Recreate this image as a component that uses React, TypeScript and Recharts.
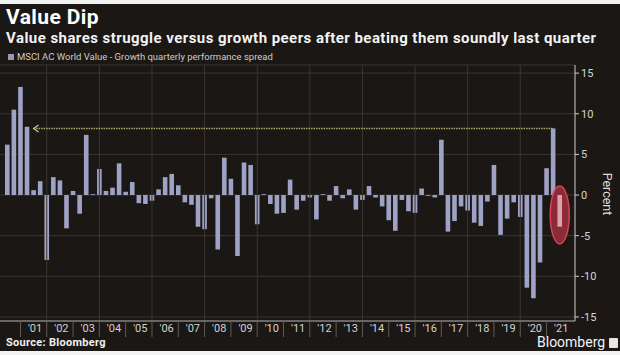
import React from 'react';
import { BarChart, Bar, XAxis, YAxis, CartesianGrid, ReferenceLine, ReferenceDot } from 'recharts';

const quarters = [
  '2000Q2', '2000Q3', '2000Q4',
  '2001Q1', '2001Q2', '2001Q3', '2001Q4',
  '2002Q1', '2002Q2', '2002Q3', '2002Q4',
  '2003Q1', '2003Q2', '2003Q3', '2003Q4',
  '2004Q1', '2004Q2', '2004Q3', '2004Q4',
  '2005Q1', '2005Q2', '2005Q3', '2005Q4',
  '2006Q1', '2006Q2', '2006Q3', '2006Q4',
  '2007Q1', '2007Q2', '2007Q3', '2007Q4',
  '2008Q1', '2008Q2', '2008Q3', '2008Q4',
  '2009Q1', '2009Q2', '2009Q3', '2009Q4',
  '2010Q1', '2010Q2', '2010Q3', '2010Q4',
  '2011Q1', '2011Q2', '2011Q3', '2011Q4',
  '2012Q1', '2012Q2', '2012Q3', '2012Q4',
  '2013Q1', '2013Q2', '2013Q3', '2013Q4',
  '2014Q1', '2014Q2', '2014Q3', '2014Q4',
  '2015Q1', '2015Q2', '2015Q3', '2015Q4',
  '2016Q1', '2016Q2', '2016Q3', '2016Q4',
  '2017Q1', '2017Q2', '2017Q3', '2017Q4',
  '2018Q1', '2018Q2', '2018Q3', '2018Q4',
  '2019Q1', '2019Q2', '2019Q3', '2019Q4',
  '2020Q1', '2020Q2', '2020Q3', '2020Q4',
  '2021Q1', '2021Q2',
];

// value minus growth, % per quarter
const spread = [
  6.2, 10.5, 13.3,
  8.4, 0.6, 1.7, -8.0,
  2.2, 1.8, -4.1, 0.5,
  -2.3, 7.4, 0.1, 3.2,
  0.5, 0.9, 3.9, 0.4,
  1.6, -1.0, -1.1, -0.7,
  0.7, 2.2, 2.6, 1.2,
  -0.9, -1.2, -3.9, -4.2,
  -0.4, -6.7, 4.6, 2.0,
  -7.5, 4.0, 3.7, -3.6,
  0.1, -1.1, -2.3, -2.2,
  1.9, -1.8, -0.7, -0.3,
  -3.0, 0.1, -0.7, 1.1,
  -0.4, 0.7, -1.8, -0.6,
  1.1, -0.3, -1.4, -3.1,
  -4.4, -0.6, -2.0, -2.2,
  0.8, -0.1, -0.3, 6.8,
  -4.5, -3.2, -1.4, -1.9,
  -3.4, -3.8, -0.8, 3.7,
  -4.9, -2.9, -0.9, -2.7,
  -11.4, -12.7, -8.3, 3.3,
  8.2, -3.9,
];

const yearLabels = [
  "'01", "'02", "'03", "'04", "'05", "'06", "'07", "'08", "'09", "'10", "'11",
  "'12", "'13", "'14", "'15", "'16", "'17", "'18", "'19", "'20", "'21",
];
const labelYears = [
  2001, 2002, 2003, 2004, 2005, 2006, 2007, 2008, 2009, 2010, 2011,
  2012, 2013, 2014, 2015, 2016, 2017, 2018, 2019, 2020, 2021,
];
const gridYears = [2001, 2003, 2005, 2007, 2009, 2011, 2013, 2015, 2017, 2019];
const yTicks = [-15, -10, -5, 0, 5, 10, 15];

const highlightQuarter = '2021Q2';
const arrowFrom = '2001Q2';
const arrowTo = '2021Q1';

const data = quarters.map((q, i) => ({ q, v: spread[i] }));
const arrowLevel = spread[quarters.indexOf(arrowTo)];

const labelAt: Record<string, string> = {};
labelYears.forEach((yr, i) => {
  labelAt[`${yr}Q2`] = yearLabels[i];
});
const xTicks = quarters.filter((q) => q.endsWith('Q4') || labelAt[q]);

const FONT = 'Roboto, "DejaVu Sans", sans-serif';

const YearTick = (props: any) => {
  const { x, y, payload } = props;
  const v = payload.value as string;
  if (v.endsWith('Q4')) {
    return <line x1={x} x2={x} y1={y} y2={y + 16} stroke="#5f5c58" strokeWidth={1} />;
  }
  return (
    <text x={x + 1.5} y={y + 11} fill="#d2d2d2" fontSize={11} fontFamily={FONT} textAnchor="middle">
      {labelAt[v]}
    </text>
  );
};

const BarShape = (props: any) => {
  const { x, y, width, height, payload } = props;
  const top = Math.min(y, y + height);
  const h = Math.abs(height);
  if (payload.q === highlightQuarter) {
    const cx = x + width / 2;
    const cy = top + h / 2 + 4;
    return (
      <g>
        <ellipse cx={cx} cy={cy} rx={9.5} ry={29} fill="#8c2b37" stroke="#d04657" strokeWidth={1.5} />
        <rect x={x} y={top} width={width} height={h} fill="#dba2ad" />
      </g>
    );
  }
  return <rect x={x} y={top} width={width} height={h} fill="#9ea2c4" />;
};

const ArrowHead = (props: any) => {
  const { cx, cy } = props;
  return (
    <polyline
      points={`${cx + 5},${cy - 3.5} ${cx},${cy} ${cx + 5},${cy + 3.5}`}
      fill="none"
      stroke="#cac6a6"
      strokeWidth={1.2}
    />
  );
};

const App: React.FC = () => {
  return (
    <div
      style={{
        position: 'relative',
        width: 620,
        height: 355,
        background: '#1a1715',
        overflow: 'hidden',
        fontFamily: FONT,
      }}
    >
      <style>{'body{margin:0}'}</style>
      <div style={{ position: 'absolute', left: 0, top: 0, width: 620, height: 4, background: '#f3f3f3' }} />
      <div style={{ position: 'absolute', left: 0, top: 351, width: 620, height: 4, background: '#f3f3f3' }} />

      <div style={{ position: 'absolute', left: 0, top: 0 }}>
        <BarChart width={620} height={355} data={data} margin={{ top: 65, right: 0, bottom: 14, left: 0 }}>
          <CartesianGrid vertical={false} stroke="#3a3632" />
          {gridYears.map((yr) => (
            <ReferenceLine key={yr} x={`${yr}Q4`} stroke="#3a3632" />
          ))}
          <XAxis
            dataKey="q"
            ticks={xTicks}
            interval={0}
            tick={<YearTick />}
            tickLine={false}
            tickSize={0}
            tickMargin={0}
            height={20}
            padding={{ left: 4, right: 12 }}
            axisLine={{ stroke: '#a9a9a9' }}
          />
          <YAxis
            orientation="right"
            width={45}
            domain={[-15.5, 16]}
            ticks={yTicks}
            interval={0}
            axisLine={{ stroke: '#cfcfcf' }}
            tickLine={{ stroke: '#cfcfcf' }}
            tickSize={4}
            tickMargin={2}
            tick={{ fill: '#d6d6d6', fontSize: 11, fontFamily: FONT }}
          />
          <Bar dataKey="v" barSize={4.6} shape={<BarShape />} isAnimationActive={false} />
          <ReferenceLine
            segment={[
              { x: arrowFrom, y: arrowLevel },
              { x: arrowTo, y: arrowLevel },
            ]}
            stroke="#b1ab6a"
            strokeWidth={1.5}
            strokeDasharray="1.5 1"
          />
          <ReferenceDot x={arrowFrom} y={arrowLevel} shape={<ArrowHead />} />
        </BarChart>
      </div>

      <div style={{ position: 'absolute', left: 6, top: 5, fontSize: 21, fontWeight: 700, color: '#ffffff', letterSpacing: 0.4 }}>
        Value Dip
      </div>
      <div
        style={{
          position: 'absolute',
          left: 6,
          top: 29,
          fontSize: 15,
          fontWeight: 700,
          color: '#f2f2f2',
          whiteSpace: 'nowrap',
          letterSpacing: 0.45,
        }}
      >
        Value shares struggle versus growth peers after beating them soundly last quarter
      </div>
      <div style={{ position: 'absolute', left: 8, top: 51, display: 'flex', alignItems: 'center', whiteSpace: 'nowrap' }}>
        <div style={{ width: 6, height: 6, background: '#9b98b7', marginRight: 3 }} />
        <span style={{ fontSize: 9.5, color: '#cccccc' }}>MSCI AC World Value - Growth quarterly performance spread</span>
      </div>
      <div
        style={{
          position: 'absolute',
          left: 607,
          top: 194,
          transform: 'translate(-50%, -50%) rotate(90deg)',
          fontSize: 12.5,
          color: '#dddddd',
          whiteSpace: 'nowrap',
        }}
      >
        Percent
      </div>
      <div style={{ position: 'absolute', left: 6, top: 336, fontSize: 11, fontWeight: 700, color: '#f0f0f0', letterSpacing: 0.3 }}>
        Source: Bloomberg
      </div>
      <div style={{ position: 'absolute', left: 537, top: 335, display: 'flex', alignItems: 'center' }}>
        <span style={{ fontSize: 14, lineHeight: '15px', color: '#f4f4f4' }}>Bloomberg</span>
        <div style={{ width: 9, height: 10, background: '#e6e6e6', marginLeft: 4, borderRadius: 1 }} />
      </div>
    </div>
  );
};

export default App;
